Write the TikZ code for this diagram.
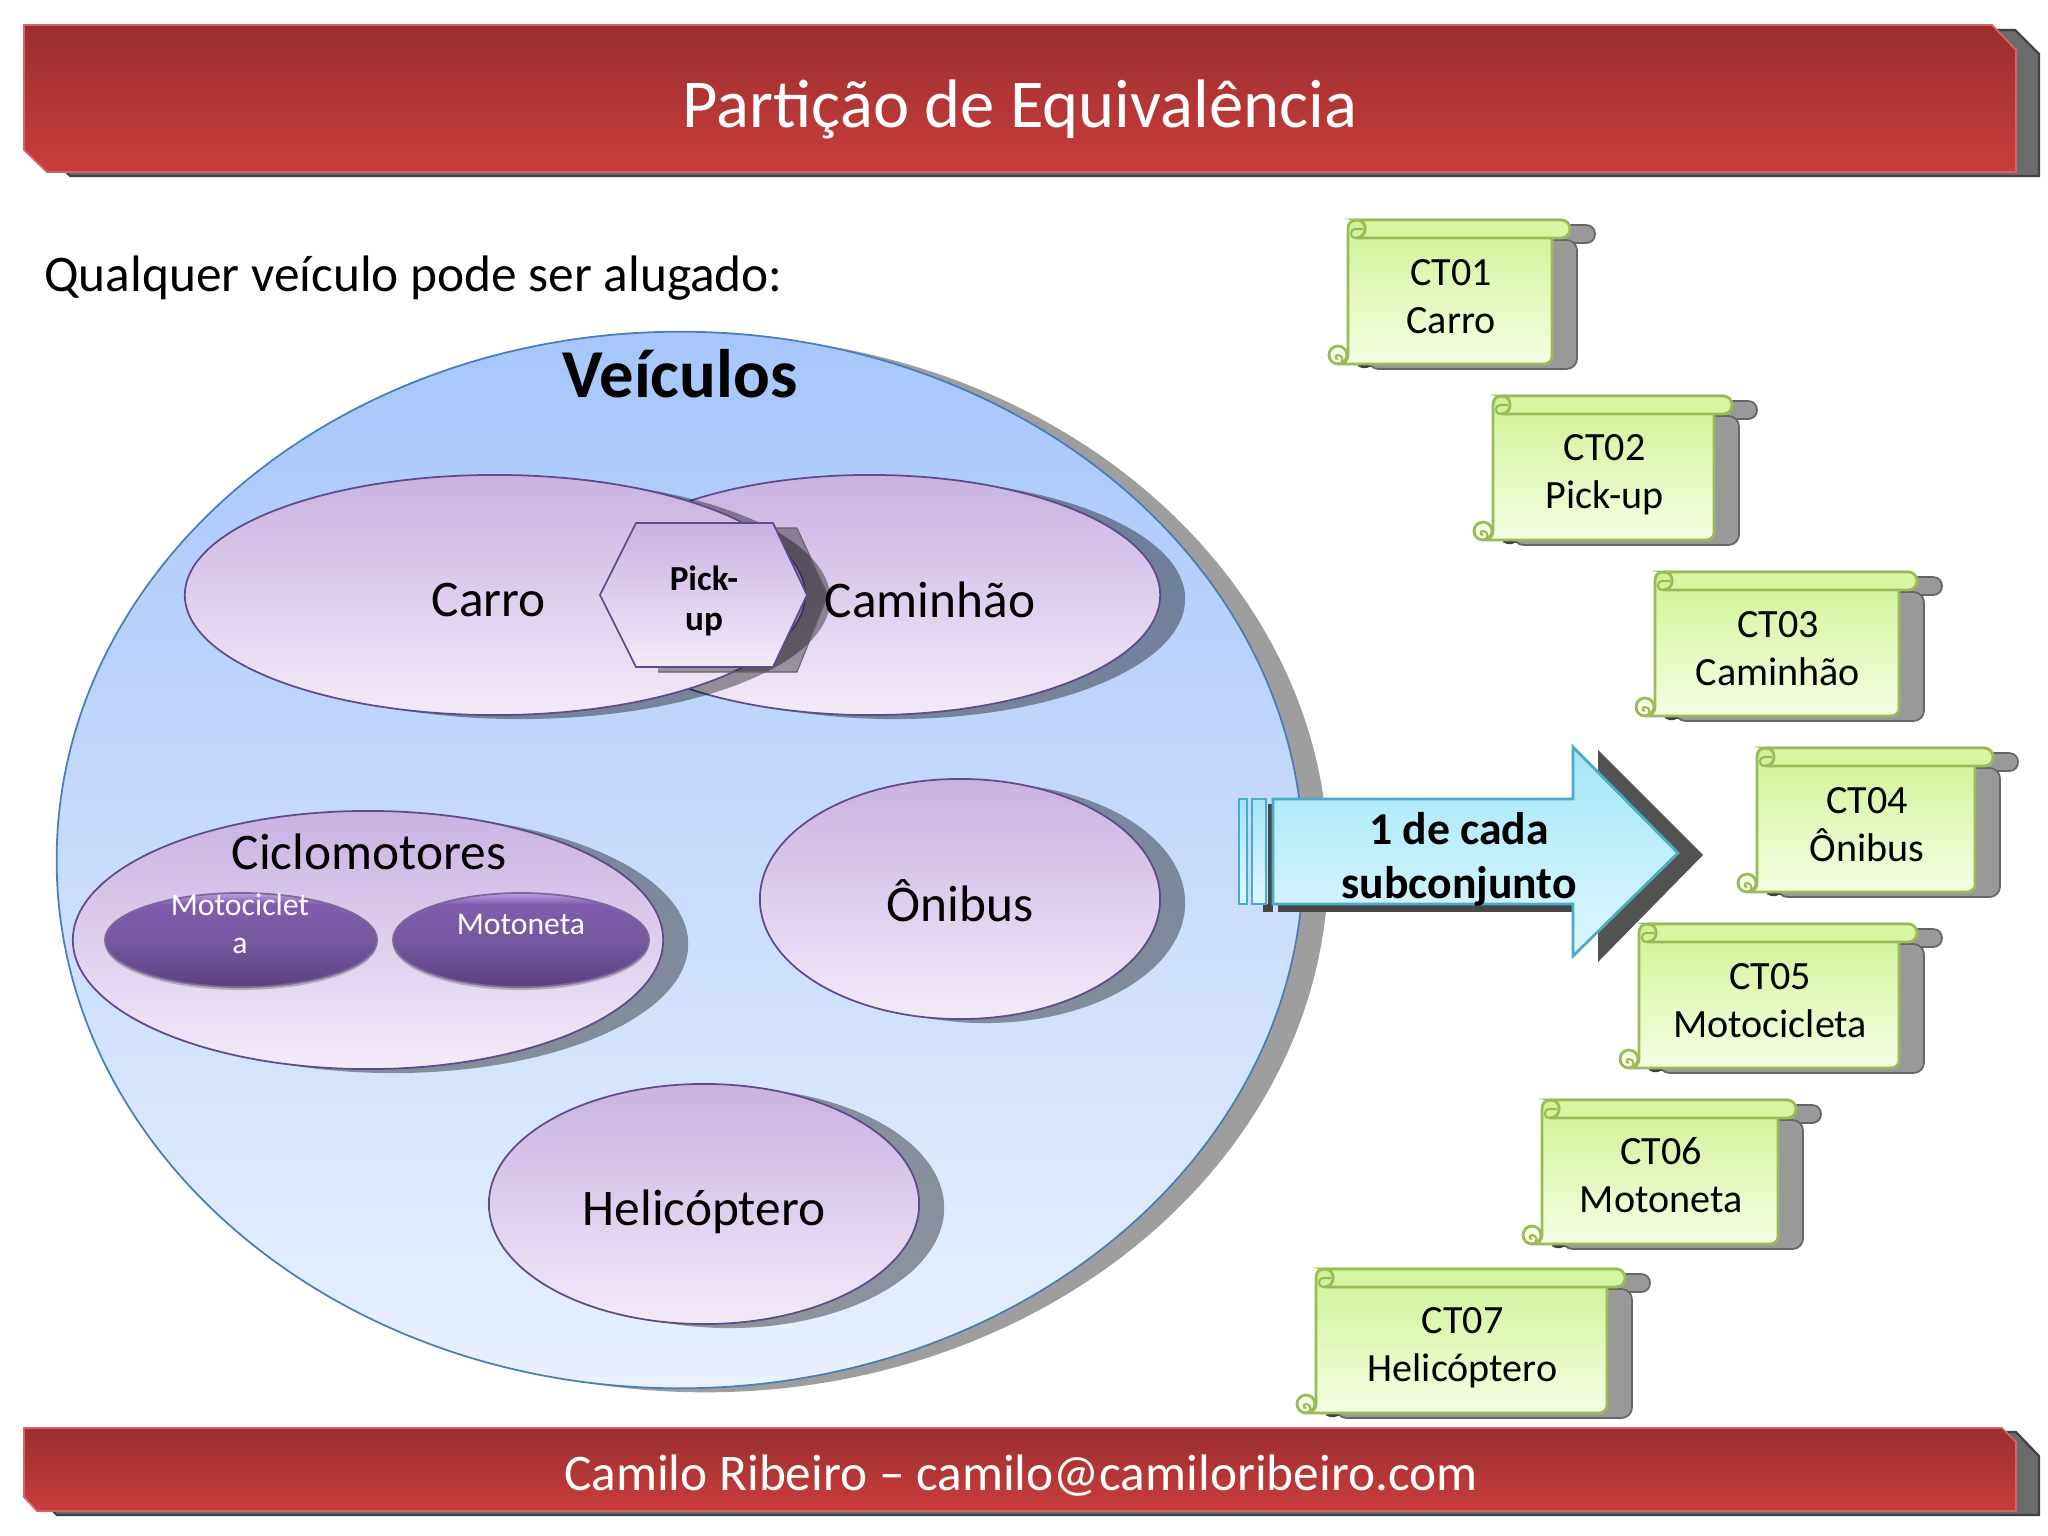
\documentclass[tikz,border=0pt]{standalone}
\usepackage{fontspec}
\setmainfont{Carlito}
\usetikzlibrary{shapes.geometric,shadows}
\definecolor{bannertop}{HTML}{9A2E2E}
\definecolor{bannerbot}{HTML}{CB3C3C}
\definecolor{setline}{HTML}{4A7EBB}
\definecolor{settop}{HTML}{A6C6FB}
\definecolor{setbot}{HTML}{E9F1FE}
\definecolor{subline}{HTML}{5F4B8B}
\definecolor{subtop}{HTML}{C9B2E2}
\definecolor{subbot}{HTML}{F3EAF9}
\definecolor{scrollline}{HTML}{9BBB59}
\definecolor{scrolltop}{HTML}{CFF294}
\definecolor{scrollbot}{HTML}{F6FEE3}
\definecolor{barfill}{HTML}{D6F6A2}
\definecolor{arrowline}{HTML}{4BACC6}
\definecolor{arrowtop}{HTML}{A3E6F9}
\definecolor{arrowbot}{HTML}{DFF7FF}
\definecolor{motoA}{HTML}{5B4180}
\definecolor{motoB}{HTML}{7558A0}
\definecolor{motoC}{HTML}{7F5DAE}
\definecolor{motoD}{HTML}{BBA0E4}
\pgfdeclareverticalshading{motoshade}{100bp}{color(0bp)=(motoA); color(25bp)=(motoA); color(50bp)=(motoB); color(69bp)=(motoC); color(75bp)=(motoD); color(100bp)=(motoD)}
\begin{document}
\begin{tikzpicture}[x=0.01cm,y=-0.01cm,
    banner/.style={draw=bannerbot!80!white, line width=0.5pt, top color=bannertop, bottom color=bannerbot},
    bannershadow/.style={draw=black!75, line width=0.6pt, fill=black!58},
    softshadow/.style={general shadow={fill=black, fill opacity=0.38, shadow xshift=0.25cm, shadow yshift=-0.04cm}},
    set node/.style={ellipse, draw=setline, line width=0.5pt, top color=settop, bottom color=setbot, softshadow},
    sub node/.style={ellipse, draw=subline, line width=0.5pt, top color=subtop, bottom color=subbot, softshadow},
    sub text/.style={font=\fontsize{14.6}{17}\selectfont},
    moto node/.style={ellipse, draw=motoA!80, line width=0.5pt, shading=motoshade, general shadow={fill=black, fill opacity=0.22, shadow yshift=-0.03cm}},
    moto text/.style={white, align=center, font=\fontsize{9}{10.8}\selectfont},
    scroll text/.style={align=center, font=\fontsize{11.4}{13.6}\selectfont},
    scroll line/.style={draw=scrollline, line width=0.8pt}]

  \path[use as bounding box] (0,0) rectangle (2048,1536);

  \draw[bannershadow] (1990,30) -- (2015,30) -- (2039,54) -- (2039,176) -- (70,176) -- (62,168) -- cycle;
  \draw[banner] (24,25) -- (1992,25) -- (2016,50) -- (2016,172) -- (47,172) -- (24,150) -- cycle;
  \node[white, font=\fontsize{19.5}{23}\selectfont] (title) at (1020,109) {Partição de Equivalência};

  \draw[bannershadow] (1990,1432) -- (2016,1432) -- (2039,1456) -- (2039,1515) -- (57,1515) -- (50,1508) -- cycle;
  \draw[banner] (24,1428) -- (2002,1428) -- (2016,1442) -- (2016,1511) -- (37,1511) -- (24,1497) -- cycle;
  \node[white, font=\fontsize{14.6}{17}\selectfont] (footer) at (1021,1476) {Camilo Ribeiro – camilo@camiloribeiro.com};

  \node[anchor=west, font=\fontsize{14.6}{17}\selectfont] (heading) at (32,278) {Qualquer veículo pode ser alugado:};

  \node[set node, minimum width=12.46cm, minimum height=10.56cm] (vehicles) at (680,860) {};
  \node[font=\fontsize{19.5}{23}\selectfont\bfseries] (vehiclestext) at (680,374) {Veículos};

  \node[sub node, minimum width=5.8cm, minimum height=2.4cm] (truck) at (870,595) {};
  \node[sub node, minimum width=6.2cm, minimum height=2.4cm] (car) at (495,595) {};
  \node[sub text] (cartext) at (489,600) {Carro};

  \draw[draw=black!60, line width=0.3pt, fill=black, fill opacity=0.35] (658,672) -- (797,672) -- (828,595) -- (797,528) -- (660,528);
  \draw[draw=subline, line width=0.5pt, top color=subtop, bottom color=subbot] (600,595) -- (636,523) -- (773,523) -- (807,595) -- (773,667) -- (636,667) -- cycle;
  \node[align=center, font=\fontsize{10}{11.5}\selectfont\bfseries] (pickup) at (704,601) {Pick-\\up};
  \node[sub text] (trucktext) at (930,600) {Caminhão};

  \node[sub node, minimum width=5.9cm, minimum height=2.58cm] (moped) at (368,940) {};
  \node[sub text] (mopedtext) at (369,852) {Ciclomotores};
  \node[moto node, minimum width=2.72cm, minimum height=0.94cm] (bike) at (241,940) {};
  \node[moto text] (biketext) at (240,924) {Motociclet\\a};
  \node[moto node, minimum width=2.56cm, minimum height=0.94cm] (scooter) at (521,940) {};
  \node[moto text] (scootertext) at (521,924) {Motoneta};

  \node[sub node, minimum width=4cm, minimum height=2.4cm] (bus) at (960,899) {};
  \node[sub text] (bustext) at (960,901) {Ônibus};
  \node[sub node, minimum width=4.3cm, minimum height=2.4cm] (heli) at (704,1204) {};
  \node[sub text] (helitext) at (704,1212) {Helicóptero};

  \fill[black!72] (1263,904) -- (1273,904) -- (1273,912) -- (1263,912) -- cycle;
  \fill[black!72] (1278,904) -- (1598,904) -- (1598,912) -- (1278,912) -- cycle;
  \fill[black!72] (1268,804) -- (1275,804) -- (1275,904) -- (1268,904) -- cycle;
  \fill[black!68] (1598,750) -- (1703,855) -- (1598,962) -- cycle;
  \draw[arrowline, line width=0.8pt, top color=arrowtop, bottom color=arrowbot] (1239,799) rectangle (1247,904);
  \draw[arrowline, line width=0.8pt, top color=arrowtop, bottom color=arrowbot] (1252,799) rectangle (1266,904);
  \draw[arrowline, line width=0.8pt, top color=arrowtop, bottom color=arrowbot] (1273,799) -- (1573,799) -- (1573,747) -- (1678,853) -- (1573,956) -- (1573,904) -- (1273,904) -- cycle;
  \node[align=center, font=\fontsize{13}{15.3}\selectfont\bfseries] (arrowtext) at (1459,859) {1 de cada\\subconjunto};

  \foreach \px/\py/\w/\tx/\id/\lbl in {1348/220/222/77/01/Carro, 1493/396/239/79/02/Pick-up, 1655/572/262/77/03/Caminhão, 1757/748/236/77/04/Ônibus, 1639/924/278/77/05/Motocicleta, 1542/1100/254/75/06/Motoneta, 1316/1269/309/79/07/Helicóptero}
  {
    \begin{scope}[shift={(\px,\py)}]
      \draw[draw=black!60, line width=0.5pt, fill=black!40] ({\w-12},5) -- ({\w+16},5) .. controls ({\w+28},5) and ({\w+28},23) .. ({\w+16},23) -- ({\w-12},23) -- cycle;
      \draw[draw=black!60, line width=0.5pt, fill=black!40, rounded corners=3pt] (30,20) -- ({\w+7},20) -- ({\w+7},149) -- (20,149) -- cycle;
      \fill[black!75, rounded corners=1pt] (9,144) -- (24,144) -- (22,148) -- (11,148) -- cycle;
      \draw[scroll line, fill=scrollbot] (-10,135) circle [radius=9];
      \draw[scroll line, top color=scrolltop, bottom color=scrollbot] (0,9) .. controls (0,3) and (3,0) .. (9,0) -- ({\w-9},0) -- ({\w-18},18) -- ({\w-18},137) .. controls ({\w-18},141) and ({\w-22},144) .. ({\w-26},144) -- (-10,144) .. controls (-4,144) and (0,140) .. (0,135) -- cycle;
      \draw[scroll line, fill=barfill] (9,0) -- ({\w-9},0) .. controls ({\w+3},0) and ({\w+3},18) .. ({\w-9},18) -- (8,18) .. controls (20,18) and (20,0) .. (9,0) -- cycle;
      \draw[scroll line, line width=0.6pt] (8,18) .. controls (1,18) and (1,9) .. (8,9) -- (15,9);
      \draw[scroll line, line width=0.6pt] (-10,144) .. controls (-4,144) and (-4,135) .. (-10,135) .. controls (-13,135) and (-13,139) .. (-10,139);
      \node[scroll text] (ct\id) at ({(\w-16)/2},\tx) {CT\id\\\lbl};
    \end{scope}
  }
\end{tikzpicture}
\end{document}
